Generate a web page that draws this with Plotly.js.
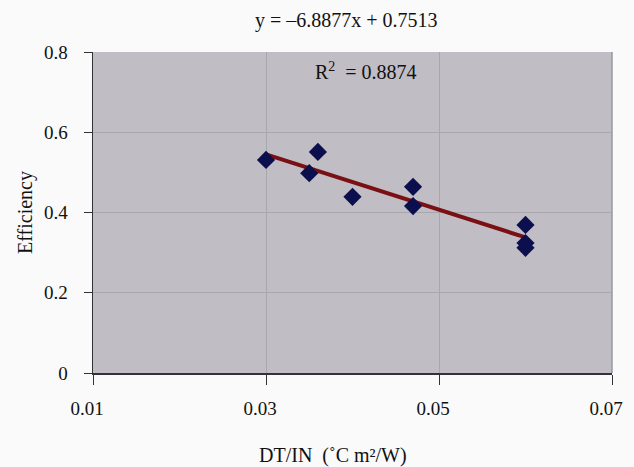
<!DOCTYPE html>
<html>
<head>
<meta charset="utf-8">
<script src="https://cdn.plot.ly/plotly-3.0.1.min.js"></script>
<style>html,body{margin:0;padding:0;background:#fafafa;}#chart{width:634px;height:467px;}</style>
</head>
<body>
<div id="chart"></div>
<script>
const dtIn = [0.030, 0.035, 0.036, 0.040, 0.047, 0.047, 0.060, 0.060, 0.060];
const efficiency = [0.531, 0.498, 0.551, 0.439, 0.464, 0.416, 0.369, 0.324, 0.312];
const trendX = [0.030, 0.060];
const trendY = [0.5447, 0.3380];
const xTicks = [0.01, 0.03, 0.05, 0.07];
const xTickLabels = ['0.01', '0.03', '0.05', '0.07'];
const yTicks = [0, 0.2, 0.4, 0.6, 0.8];
const yTickLabels = ['0', '0.2', '0.4', '0.6', '0.8'];

const fam = '"Liberation Serif", "Times New Roman", serif';
const tickFont = {family: fam, size: 19, color: '#111'};
const textFont = {family: fam, size: 20, color: '#111'};

const traces = [
  {x: trendX, y: trendY, mode: 'lines', line: {color: '#7a1014', width: 4}, hoverinfo: 'skip'},
  {x: dtIn, y: efficiency, mode: 'markers', marker: {symbol: 'diamond', size: 14, color: '#0c0f4e'}}
];

const layout = {
  width: 634, height: 467,
  margin: {l: 93, r: 22, t: 52, b: 94},
  paper_bgcolor: '#fafafa',
  plot_bgcolor: '#c0bdc4',
  showlegend: false,
  font: tickFont,
  xaxis: {
    range: [0.01, 0.07], tickvals: xTicks, ticktext: xTickLabels,
    showgrid: true, gridcolor: '#a9a7ad', gridwidth: 1,
    showline: true, linecolor: '#333', linewidth: 1.5,
    ticks: 'outside', ticklen: 10, tickcolor: '#333',
    ticklabelstandoff: 8, ticklabelshift: -6,
    zeroline: false, tickfont: tickFont
  },
  yaxis: {
    range: [0, 0.8], tickvals: yTicks, ticktext: yTickLabels,
    showgrid: true, gridcolor: '#a9a7ad', gridwidth: 1,
    showline: true, linecolor: '#333', linewidth: 1.5,
    ticks: 'outside', ticklen: 8, tickcolor: '#333',
    ticklabelstandoff: 12,
    zeroline: false, tickfont: tickFont,
    title: {text: 'Efficiency', font: textFont, standoff: 6}
  },
  shapes: [
    {type: 'line', xref: 'paper', yref: 'paper', x0: 1, x1: 1, y0: 0, y1: 1, line: {color: '#9a989e', width: 1.5}}
  ],
  annotations: [
    {text: 'y = –6.8877x + 0.7513', xref: 'paper', yref: 'paper', x: 0.4875, y: 1, yshift: 32, showarrow: false, font: textFont, xanchor: 'center', yanchor: 'middle'},
    {text: 'R<sup>2</sup>\u00A0\u00A0= 0.8874', xref: 'x', yref: 'paper', x: 0.0354, y: 1, yshift: -19, showarrow: false, font: textFont, xanchor: 'left', yanchor: 'middle'},
    {text: 'DT/IN\u00A0\u00A0(˚C m²/W)', xref: 'paper', yref: 'paper', x: 0.462, y: 0, yshift: -82, showarrow: false, font: textFont, xanchor: 'center', yanchor: 'middle'}
  ]
};

Plotly.newPlot('chart', traces, layout, {displayModeBar: false, staticPlot: true});
</script>
</body>
</html>
